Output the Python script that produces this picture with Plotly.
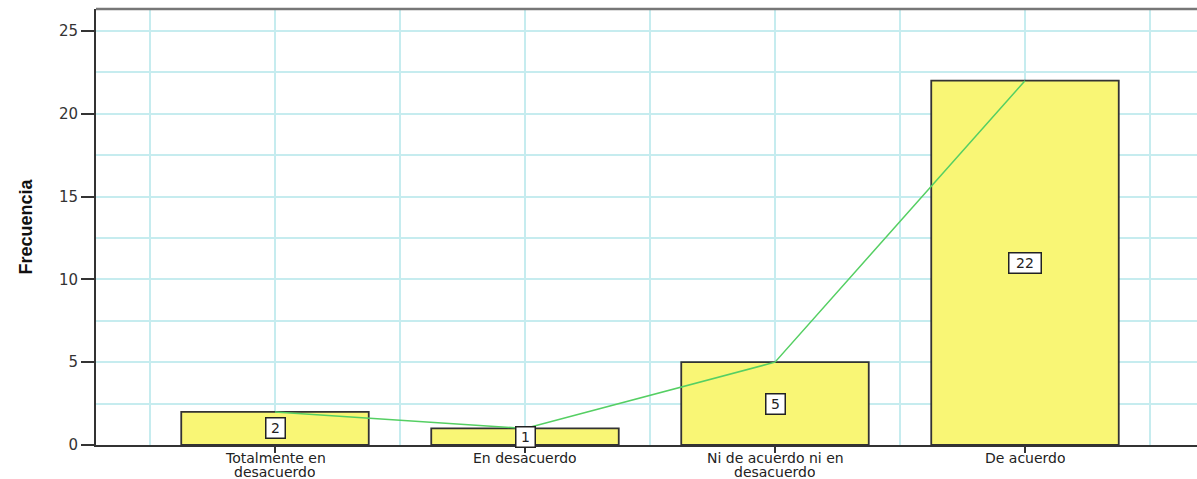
import plotly.graph_objects as go

# Frequency of responses per agreement category
categorias = [
    "Totalmente en<br>desacuerdo",
    "En desacuerdo",
    "Ni de acuerdo ni en<br>desacuerdo",
    "De acuerdo",
]
frecuencias = [2, 1, 5, 22]
y_ticks = [0, 5, 10, 15, 20, 25]

posiciones = list(range(len(categorias)))

texto = "DejaVu Sans, Verdana, sans-serif"

fig = go.Figure()

fig.add_trace(go.Bar(
    x=posiciones,
    y=frecuencias,
    width=0.75,
    marker=dict(color="#f9f675", line=dict(color="#333333", width=1.8)),
    hoverinfo="skip",
    showlegend=False,
))

fig.add_trace(go.Scatter(
    x=posiciones,
    y=frecuencias,
    mode="lines",
    line=dict(color="#55cf63", width=1.5),
    hoverinfo="skip",
    showlegend=False,
))

# Value labels centred halfway up each bar
for xi, v in zip(posiciones, frecuencias):
    etiqueta = str(v)
    fig.add_annotation(
        x=xi, y=v / 2, text=etiqueta, showarrow=False,
        font=dict(family=texto, size=14, color="#222"),
        width=13 * len(etiqueta) + 1, height=15,
        bgcolor="white", bordercolor="#222", borderwidth=1.5, borderpad=2,
    )

# Category names below the axis, one annotation per line so the
# two-line labels sit close together under the tick marks
for xi, nombre in zip(posiciones, categorias):
    for k, linea in enumerate(nombre.split("<br>")):
        fig.add_annotation(
            x=xi, xref="x", y=0, yref="y domain", yshift=-13 - 14 * k,
            text=linea, showarrow=False, yanchor="middle",
            height=14, borderpad=0, valign="middle",
            font=dict(family=texto, size=14, color="#222"),
        )

grid_color = "#c6ecef"

fig.update_layout(
    width=1197, height=479,
    margin=dict(l=96, r=0, t=9, b=34),
    paper_bgcolor="white",
    plot_bgcolor="white",
    xaxis=dict(
        range=[-0.716, 3.688],
        tickmode="array",
        tickvals=posiciones,
        ticktext=[""] * len(posiciones),
        ticks="outside", ticklen=6, tickcolor="#333", tickwidth=1.5,
        showgrid=True, gridcolor=grid_color, gridwidth=1.5,
        minor=dict(tick0=-0.5, dtick=0.5, showgrid=True, gridcolor=grid_color, gridwidth=1.5, ticks=""),
        showline=True, linecolor="#333", linewidth=1.5,
        zeroline=False,
        automargin=False,
        fixedrange=True,
    ),
    yaxis=dict(
        range=[0, 26.33],
        tickmode="array",
        tickvals=y_ticks,
        ticks="outside", ticklen=13, tickcolor="#333", tickwidth=1.5,
        showgrid=True, gridcolor=grid_color, gridwidth=1.5,
        minor=dict(tick0=0, dtick=2.5, showgrid=True, gridcolor=grid_color, gridwidth=1.5, ticks=""),
        showline=True, linecolor="#333", linewidth=2,
        zeroline=False,
        automargin=False,
        tickfont=dict(family=texto, size=15, color="#333"),
        title=dict(
            text="<b>Frecuencia</b>",
            font=dict(family="Liberation Sans Narrow, Arial Narrow, Liberation Sans, sans-serif", size=18, color="#111"),
            standoff=22,
        ),
        fixedrange=True,
    ),
    shapes=[
        dict(type="line", xref="paper", yref="paper", x0=0, x1=1, y0=1, y1=1,
             line=dict(color="#777", width=2.5)),
    ],
)

fig.write_html("out.html")
